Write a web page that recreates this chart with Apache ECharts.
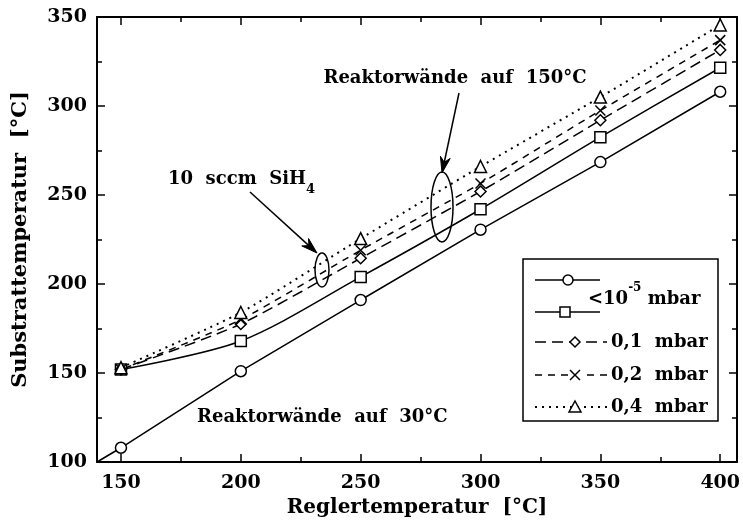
<!DOCTYPE html>
<html>
<head>
<meta charset="utf-8">
<script src="https://cdn.jsdelivr.net/npm/echarts@6/dist/echarts.min.js"></script>
<style>
  html, body { margin: 0; padding: 0; background: #fff; }
  #chart { width: 743px; height: 526px; }
</style>
</head>
<body>
<div id="chart"></div>
<script>
// Controller set-point vs. measured substrate temperature
const reglerTemp = [150, 200, 250, 300, 350, 400];
// walls at 30 °C, base pressure (< 1e-5 mbar); line runs on to the axis corner
const walls30Start = [140, 100];
const walls30 = [108, 151, 191, 230.5, 268.5, 308];
// walls at 150 °C
const vac150 = [152, 168, 204, 242, 282.5, 321.5];
const p01 = [152, 177.5, 214.5, 252, 292, 331.5];
const p02 = [152, 180, 219, 256.5, 297.5, 337];
const p04 = [153, 184, 225.5, 266, 305, 345.5];

const xMajorTicks = [150, 200, 250, 300, 350, 400];
const xMinorTicks = [175, 225, 275, 325, 375];

const legendLabels = ['0,1  mbar', '0,2  mbar', '0,4  mbar'];

const FONT = '"DejaVu Serif", "Liberation Serif", serif';
const BLACK = '#000';

const chart = echarts.init(document.getElementById('chart'), null, { renderer: 'canvas' });

const pairs = vals => reglerTemp.map((x, i) => [x, vals[i]]);

const labelStyle = { fontFamily: FONT, fontWeight: 'bold', fontSize: 19, color: BLACK };
const tickLine = { color: BLACK, width: 1.5 };

const xBase = {
  type: 'value', min: 140, max: 407,
  splitLine: { show: false },
  axisLabel: { show: false },
  axisTick: { show: false },
  axisLine: { show: false }
};

const yBase = {
  type: 'value', min: 100, max: 350, interval: 50,
  splitLine: { show: false },
  axisLine: { show: true, onZero: false, lineStyle: { color: BLACK, width: 2 } },
  axisTick: { show: true, inside: true, length: 8, lineStyle: tickLine },
  minorTick: { show: true, splitNumber: 2, length: 5, lineStyle: tickLine }
};

const markerStyle = { color: '#fff', borderColor: BLACK, borderWidth: 1.5 };

function series(name, data, symbol, size, dash, width, smooth, itemStyle) {
  return {
    name, type: 'line', xAxisIndex: 0, yAxisIndex: 0,
    data, symbol, symbolSize: size, smooth,
    showAllSymbol: true,
    lineStyle: { color: BLACK, width, type: dash },
    itemStyle: itemStyle || markerStyle,
    emphasis: { disabled: true },
    z: 3
  };
}

const X_PATH = 'path://M0,0L10,10M10,0L0,10';

// ---- hand-drawn legend box ----
const lgX0 = 535, lgSym = 575, lgTxt = 611;
const rowsY = [280, 312, 342, 375, 407];
const legendEls = [
  { type: 'rect', shape: { x: 523, y: 259, width: 195, height: 162 },
    style: { fill: '#fff', stroke: BLACK, lineWidth: 1.5 }, z: 10 },
  // row 1: circles
  { type: 'line', shape: { x1: lgX0, y1: rowsY[0], x2: 600, y2: rowsY[0] }, style: { stroke: BLACK, lineWidth: 1.5 }, z: 11 },
  { type: 'circle', shape: { cx: 568, cy: rowsY[0], r: 5 }, style: { fill: '#fff', stroke: BLACK, lineWidth: 1.5 }, z: 12 },
  // row 2: squares
  { type: 'line', shape: { x1: lgX0, y1: rowsY[1], x2: 600, y2: rowsY[1] }, style: { stroke: BLACK, lineWidth: 1.5 }, z: 11 },
  { type: 'rect', shape: { x: 560, y: rowsY[1] - 5, width: 10, height: 10 }, style: { fill: '#fff', stroke: BLACK, lineWidth: 1.5 }, z: 12 },
  { type: 'text', x: 588, y: 295, z: 12,
    style: { text: '{a|<10}{s|-5}{a| mbar}', textVerticalAlign: 'middle',
      rich: {
        a: { fontFamily: FONT, fontWeight: 'bold', fontSize: 18, lineHeight: 26, fill: BLACK, verticalAlign: 'bottom' },
        s: { fontFamily: FONT, fontWeight: 'bold', fontSize: 12, lineHeight: 12, fill: BLACK, verticalAlign: 'top' }
      } } },
  // row 3: diamonds, long dashes
  { type: 'line', shape: { x1: lgX0, y1: rowsY[2], x2: 607, y2: rowsY[2] }, style: { stroke: BLACK, lineWidth: 1.5, lineDash: [11, 6] }, z: 11 },
  { type: 'polygon', shape: { points: [[lgSym, rowsY[2] - 5], [lgSym + 5, rowsY[2]], [lgSym, rowsY[2] + 5], [lgSym - 5, rowsY[2]]] },
    style: { fill: '#fff', stroke: BLACK, lineWidth: 1.5 }, z: 12 },
  // row 4: crosses, short dashes
  { type: 'line', shape: { x1: lgX0, y1: rowsY[3], x2: 607, y2: rowsY[3] }, style: { stroke: BLACK, lineWidth: 1.5, lineDash: [7, 6] }, z: 11 },
  { type: 'rect', shape: { x: lgSym - 6, y: rowsY[3] - 6, width: 12, height: 12 }, style: { fill: '#fff', lineWidth: 0 }, z: 12 },
  { type: 'line', shape: { x1: lgSym - 5, y1: rowsY[3] - 5, x2: lgSym + 5, y2: rowsY[3] + 5 }, style: { stroke: BLACK, lineWidth: 1.5 }, z: 13 },
  { type: 'line', shape: { x1: lgSym + 5, y1: rowsY[3] - 5, x2: lgSym - 5, y2: rowsY[3] + 5 }, style: { stroke: BLACK, lineWidth: 1.5 }, z: 13 },
  // row 5: triangles, dotted
  { type: 'line', shape: { x1: lgX0, y1: rowsY[4], x2: 607, y2: rowsY[4] }, style: { stroke: BLACK, lineWidth: 2, lineDash: [2, 5] }, z: 11 },
  { type: 'polygon', shape: { points: [[lgSym, rowsY[4] - 6], [lgSym + 6, rowsY[4] + 5], [lgSym - 6, rowsY[4] + 5]] },
    style: { fill: '#fff', stroke: BLACK, lineWidth: 1.5 }, z: 12 }
];
legendLabels.forEach((t, i) => {
  legendEls.push({ type: 'text', x: lgTxt, y: rowsY[i + 2], z: 12,
    style: { text: t, font: 'bold 18px ' + FONT, fill: BLACK, textVerticalAlign: 'middle' } });
});

// ---- annotations: ellipses, arrows, notes ----
function arrow(x1, y1, x2, y2) {
  const dx = x2 - x1, dy = y2 - y1, L = Math.hypot(dx, dy);
  const ux = dx / L, uy = dy / L, px = -uy, py = ux;
  const head = 16, notch = 11, half = 5;
  const bx = x2 - ux * head, by = y2 - uy * head;
  return [
    { type: 'line', shape: { x1, y1, x2: x2 - ux * notch, y2: y2 - uy * notch }, style: { stroke: BLACK, lineWidth: 1.5 }, z: 8 },
    { type: 'polygon', shape: { points: [[x2, y2], [bx + px * half, by + py * half], [x2 - ux * notch, y2 - uy * notch], [bx - px * half, by - py * half]] },
      style: { fill: BLACK, stroke: BLACK, lineWidth: 1 }, z: 8 }
  ];
}

const annotEls = [
  { type: 'ellipse', shape: { cx: 322, cy: 270, rx: 7, ry: 17 }, style: { fill: 'none', stroke: BLACK, lineWidth: 1.5 }, z: 8 },
  { type: 'ellipse', shape: { cx: 442, cy: 207, rx: 11, ry: 35 }, style: { fill: 'none', stroke: BLACK, lineWidth: 1.5 }, z: 8 },
  ...arrow(250, 192, 317, 253),
  ...arrow(459, 93, 442, 173),
  { type: 'text', x: 455, y: 78, z: 9,
    style: { text: 'Reaktorwände  auf  150°C', font: 'bold 18px ' + FONT, fill: BLACK, textAlign: 'center', textVerticalAlign: 'middle' } },
  { type: 'text', x: 197, y: 417, z: 9,
    style: { text: 'Reaktorwände  auf  30°C', font: 'bold 18px ' + FONT, fill: BLACK, textVerticalAlign: 'middle' } },
  { type: 'text', x: 168, y: 183, z: 9,
    style: { text: '{a|10  sccm  SiH}{s|4}', textVerticalAlign: 'middle',
      rich: {
        a: { fontFamily: FONT, fontWeight: 'bold', fontSize: 18, lineHeight: 26, fill: BLACK, verticalAlign: 'top' },
        s: { fontFamily: FONT, fontWeight: 'bold', fontSize: 13, lineHeight: 13, fill: BLACK, verticalAlign: 'bottom' }
      } } }
];

chart.setOption({
  animation: false,
  backgroundColor: '#fff',
  grid: { left: 97, right: 6, top: 17, bottom: 64, containLabel: false, outerBoundsMode: 'none' },
  xAxis: [
    { ...xBase, position: 'bottom',
      axisLine: { show: true, onZero: false, lineStyle: { color: BLACK, width: 2 } },
      axisTick: { show: true, inside: true, length: 8, customValues: xMajorTicks, lineStyle: tickLine },
      axisLabel: { show: true, customValues: xMajorTicks, margin: 12, ...labelStyle },
      name: 'Reglertemperatur  [°C]', nameLocation: 'middle', nameGap: 34,
      nameTextStyle: { fontFamily: FONT, fontWeight: 'bold', fontSize: 20, color: BLACK } },
    { ...xBase, position: 'bottom',
      axisTick: { show: true, inside: true, length: 5, customValues: xMinorTicks, lineStyle: tickLine } },
    { ...xBase, position: 'top',
      axisLine: { show: true, onZero: false, lineStyle: { color: BLACK, width: 2 } },
      axisTick: { show: true, inside: true, length: 8, customValues: xMajorTicks, lineStyle: tickLine } },
    { ...xBase, position: 'top',
      axisTick: { show: true, inside: true, length: 5, customValues: xMinorTicks, lineStyle: tickLine } }
  ],
  yAxis: [
    { ...yBase, position: 'left',
      axisLabel: { margin: 10, ...labelStyle },
      name: 'Substrattemperatur  [°C]', nameLocation: 'middle', nameGap: 66, nameRotate: 90,
      nameTextStyle: { fontFamily: FONT, fontWeight: 'bold', fontSize: 21, color: BLACK } },
    { ...yBase, position: 'right', axisLabel: { show: false } }
  ],
  series: [
    series('<10-5 mbar, 30°C', [{ value: walls30Start, symbol: 'none' }, ...pairs(walls30)], 'circle', 11, 'solid', 1.5, false),
    series('<10-5 mbar, 150°C', pairs(vac150), 'rect', 11, 'solid', 1.5, 0.3),
    series('0,1 mbar', pairs(p01), 'diamond', 11, [11, 6], 1.5, 0.2),
    series('0,2 mbar', pairs(p02), X_PATH, 10, [7, 6], 1.5, 0.2,
      { color: BLACK, borderColor: BLACK, borderWidth: 1.5 }),
    series('0,4 mbar', pairs(p04), 'triangle', 12, [2, 5], 2, 0.2)
  ],
  graphic: [...annotEls, ...legendEls]
});
</script>
</body>
</html>
